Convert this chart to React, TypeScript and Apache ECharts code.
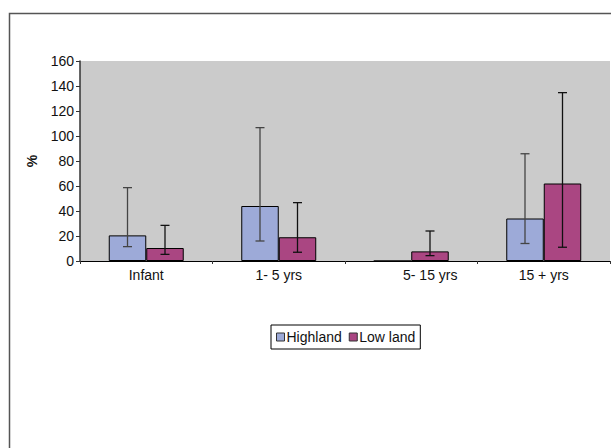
import React, { useEffect, useRef } from "react";
import * as echarts from "echarts";

const categories = ["Infant", "1- 5 yrs", "5- 15 yrs", "15 + yrs"];
const highland = [20.5, 44, 0, 34];
const lowland = [10.4, 19, 7.7, 62];
const highlandLow = [11.5, 16, 0, 14];
const highlandHigh = [58.7, 106.7, 0, 85.8];
const lowlandLow = [5.3, 7, 4.3, 11];
const lowlandHigh = [28.5, 46.7, 24, 134.7];
const yTicks = { min: 0, max: 160, interval: 20 };

const FONT = "'Liberation Sans', Arial, sans-serif";
const BAR_FRAC = 0.283;
const FS = 14;

export default function App() {
  const ref = useRef<HTMLDivElement>(null);
  useEffect(() => {
    const chart = echarts.init(ref.current!, null, { renderer: "svg" });
    const errData: any[] = [];
    categories.forEach((_, i) => {
      if (highlandHigh[i] > 0) errData.push([i, highlandLow[i], highlandHigh[i], 0]);
      errData.push([i, lowlandLow[i], lowlandHigh[i], 1]);
    });
    chart.setOption({
      animation: false,
      textStyle: { fontFamily: FONT },
      graphic: [
        {
          type: "rect",
          left: 7,
          top: 11,
          shape: { x: 0, y: 0, width: 700, height: 500 },
          style: { fill: "none", stroke: "#555", lineWidth: 1.5 },
          silent: true,
        },
      ],
      grid: {
        left: 80,
        top: 61,
        right: 1,
        bottom: 187,
        show: true,
        backgroundColor: "#CBCBCB",
        borderWidth: 0,
      },
      legend: {
        left: 271,
        top: 325,
        orient: "horizontal",
        data: ["Highland", "Low land"],
        borderColor: "#000",
        borderWidth: 1,
        backgroundColor: "#fff",
        padding: [5, 5, 5, 5],
        itemGap: 7,
        itemWidth: 8,
        itemHeight: 8,
        icon: "rect",
        itemStyle: { borderColor: "#333", borderWidth: 1 },
        textStyle: { fontSize: FS, color: "#111", fontFamily: FONT, padding: [0, 0, 0, -3] },
      },
      xAxis: {
        type: "category",
        data: categories.map((c, i) =>
          i === 2 ? { value: c, textStyle: { padding: [0, 0, 0, 38] } } : c
        ),
        axisLine: { lineStyle: { color: "#000", width: 1 } },
        axisTick: { show: true, length: 3, lineStyle: { color: "#333" } },
        axisLabel: { fontSize: FS, color: "#111", margin: 7, fontFamily: FONT },
      },
      yAxis: {
        type: "value",
        min: yTicks.min,
        max: yTicks.max,
        interval: yTicks.interval,
        name: "%",
        nameLocation: "middle",
        nameGap: 41,
        nameRotate: 90,
        nameTextStyle: { fontSize: FS, fontWeight: "bold", color: "#111", fontFamily: FONT },
        axisLine: { show: true, lineStyle: { color: "#333", width: 1.5 } },
        axisTick: { show: true, length: 4, lineStyle: { color: "#333" } },
        splitLine: { show: false },
        axisLabel: { fontSize: FS, color: "#111", margin: 6, fontFamily: FONT },
      },
      series: [
        {
          name: "Highland",
          type: "bar",
          data: highland,
          barWidth: BAR_FRAC * 100 + "%",
          barGap: "0%",
          itemStyle: { color: "#9DAAD8", borderColor: "#000", borderWidth: 1 },
        },
        {
          name: "Low land",
          type: "bar",
          data: lowland,
          barWidth: BAR_FRAC * 100 + "%",
          barGap: "0%",
          itemStyle: { color: "#AA4682", borderColor: "#000", borderWidth: 1 },
        },
        {
          type: "custom",
          data: errData,
          z: 10,
          encode: { x: 0, y: [1, 2] },
          renderItem: (params: any, api: any) => {
            const idx = api.value(0);
            const lo = api.coord([idx, api.value(1)]);
            const hi = api.coord([idx, api.value(2)]);
            const s = api.value(3);
            const band = api.size([1, 0])[0];
            const bw = band * BAR_FRAC;
            const x = lo[0] + (s - 0.5) * bw;
            const half = 4.5;
            const color = s === 0 ? "#444" : "#111";
            const style = { stroke: color, lineWidth: 1.3 };
            return {
              type: "group",
              children: [
                { type: "line", shape: { x1: x, y1: lo[1], x2: x, y2: hi[1] }, style },
                { type: "line", shape: { x1: x - half, y1: hi[1], x2: x + half, y2: hi[1] }, style },
                { type: "line", shape: { x1: x - half, y1: lo[1], x2: x + half, y2: lo[1] }, style },
              ],
            };
          },
        },
      ],
    });
    return () => chart.dispose();
  }, []);
  return (
    <div
      ref={ref}
      style={{ position: "fixed", left: 0, top: 0, width: 611, height: 448, background: "#fff" }}
    />
  );
}
